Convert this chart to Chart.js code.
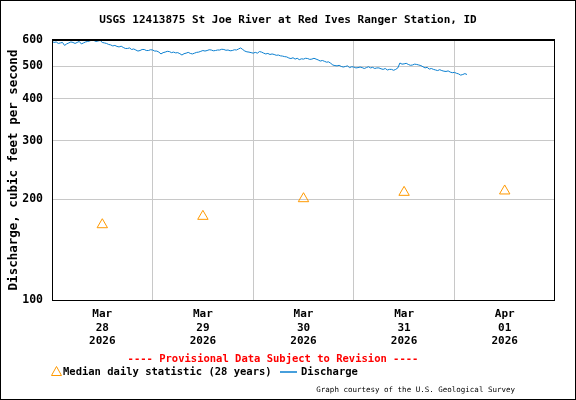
<!DOCTYPE html>
<html>
<head>
<meta charset="utf-8">
<script src="https://cdn.jsdelivr.net/npm/chart.js@4.4.1/dist/chart.umd.min.js"></script>
<style>
  html, body { margin: 0; padding: 0; background: #fff; }
</style>
</head>
<body>
<canvas id="flow" width="576" height="400"></canvas>
<script>
// hours counted from Mar 28 2026 00:00
const stationTitle = "USGS 12413875 St Joe River at Red Ives Ranger Station, ID";
const dayLabels = [["Mar", "28", "2026"], ["Mar", "29", "2026"], ["Mar", "30", "2026"], ["Mar", "31", "2026"], ["Apr", "01", "2026"]];
const dayLabelHours = [12, 36, 60, 84, 108];
const midnightHours = [24, 48, 72, 96];
const yTicks = [100, 200, 300, 400, 500, 600];

const medianHours = [12, 36, 60, 84, 108];
const medianValues = [168, 178, 201, 210, 212];

// discharge every 30 minutes, cfs
const stepHours = 0.5;
const dischargeMar28 = [594, 590, 592, 586, 588, 590, 578, 584, 588, 592, 590, 586, 590, 594, 584, 588, 592, 594, 596, 600, 598, 594, 596, 598,
  590, 588, 586, 582, 580, 576, 578, 574, 572, 575, 570, 566, 566, 568, 562, 564, 560, 556, 558, 562, 562, 558, 558, 561];
const dischargeMar29 = [560, 556, 556, 552, 545, 550, 552, 555, 554, 550, 552, 549, 550, 546, 541, 546, 548, 551, 547, 545, 548, 551, 552, 555,
  558, 556, 558, 561, 560, 557, 558, 560, 560, 563, 562, 559, 560, 557, 558, 561, 560, 564, 568, 562, 556, 553, 552, 550];
const dischargeMar30 = [548, 551, 548, 554, 552, 548, 545, 547, 543, 545, 543, 540, 541, 538, 537, 535, 534, 530, 528, 531, 526, 529, 524, 527,
  526, 529, 528, 525, 526, 529, 526, 523, 519, 521, 518, 515, 516, 511, 505, 503, 502, 504, 500, 498, 500, 502, 496, 499];
const dischargeMar31 = [498, 495, 496, 498, 496, 493, 496, 499, 495, 497, 493, 495, 495, 492, 490, 493, 488, 490, 490, 487, 490, 495, 512, 508,
  509, 511, 507, 504, 505, 508, 507, 505, 503, 499, 495, 497, 491, 493, 490, 488, 486, 489, 486, 484, 483, 485, 481, 479];
const dischargeApr01 = [480, 477, 475, 471, 473, 476, 473];

const monoFont = "'DejaVu Sans Mono', 'Liberation Mono', monospace";
const flowBlue = "#0a7fd0";
const medianOrange = "#ff9900";

const dischargeValues = [].concat(dischargeMar28, dischargeMar29, dischargeMar30, dischargeMar31, dischargeApr01);
const dischargePoints = dischargeValues.map((v, i) => ({ x: i * stepHours, y: v }));
const medianPoints = medianHours.map((h, i) => ({ x: h, y: medianValues[i] }));

const extras = {
  id: "usgsExtras",
  afterDraw(chart) {
    const ctx = chart.ctx;
    const a = chart.chartArea;
    ctx.save();

    // plot frame
    ctx.strokeStyle = "#000";
    ctx.lineWidth = 1;
    ctx.strokeRect(a.left + 0.5, a.top + 0.5, a.right - a.left - 1, a.bottom - a.top);
    ctx.beginPath();
    ctx.moveTo(a.left, a.top - 0.5);
    ctx.lineTo(a.right, a.top - 0.5);
    ctx.stroke();

    // outer frame
    ctx.strokeRect(0.5, 0.5, 575, 399);

    ctx.fillStyle = "#000";
    ctx.textBaseline = "middle";
    ctx.textAlign = "center";
    ctx.font = "bold 11px " + monoFont;
    ctx.fillText(stationTitle, 288, 20);

    ctx.fillStyle = "#ff0000";
    ctx.font = "bold 10.5px " + monoFont;
    ctx.fillText("---- Provisional Data Subject to Revision ----", 273, 359);

    // legend
    ctx.strokeStyle = medianOrange;
    ctx.beginPath();
    ctx.moveTo(56.5, 366.5);
    ctx.lineTo(61.5, 375.5);
    ctx.lineTo(51.5, 375.5);
    ctx.closePath();
    ctx.stroke();
    ctx.fillStyle = "#000";
    ctx.textAlign = "left";
    ctx.fillText("Median daily statistic (28 years)", 63, 372);
    ctx.strokeStyle = flowBlue;
    ctx.lineWidth = 1.5;
    ctx.beginPath();
    ctx.moveTo(280, 372);
    ctx.lineTo(297, 372);
    ctx.stroke();
    ctx.fillText("Discharge", 301, 372);

    ctx.textAlign = "right";
    ctx.font = "7.5px " + monoFont;
    ctx.fillText("Graph courtesy of the U.S. Geological Survey", 515, 390);
    ctx.restore();
  }
};

new Chart(document.getElementById("flow"), {
  type: "scatter",
  data: {
    datasets: [
      {
        label: "Discharge",
        data: dischargePoints,
        showLine: true,
        borderColor: flowBlue,
        borderWidth: 1,
        pointRadius: 0,
        tension: 0
      },
      {
        label: "Median daily statistic (28 years)",
        data: medianPoints,
        showLine: false,
        pointStyle: "triangle",
        pointRadius: 6,
        borderColor: medianOrange,
        backgroundColor: "rgba(0,0,0,0)",
        borderWidth: 1
      }
    ]
  },
  plugins: [extras],
  options: {
    responsive: false,
    animation: false,
    devicePixelRatio: 1,
    layout: { padding: { top: 40, right: 21, left: 0, bottom: 0 } },
    plugins: { legend: { display: false }, title: { display: false }, tooltip: { enabled: false } },
    scales: {
      x: {
        type: "linear",
        min: 0,
        max: 120,
        afterFit: (scale) => { scale.height = 100; },
        afterBuildTicks: (scale) => {
          const t = [0, 120].concat(midnightHours, dayLabelHours).sort((p, q) => p - q);
          scale.ticks = t.map((v) => ({ value: v }));
        },
        border: { display: false },
        grid: {
          drawTicks: false,
          lineWidth: 1,
          color: (c) => (c.tick && midnightHours.includes(c.tick.value) ? "#c8c8c8" : "rgba(0,0,0,0)")
        },
        ticks: {
          autoSkip: false,
          maxRotation: 0,
          padding: 8,
          color: "#000",
          font: { family: monoFont, size: 11, weight: "bold", lineHeight: 1.2 },
          callback: (v) => {
            const i = dayLabelHours.indexOf(v);
            return i >= 0 ? dayLabels[i] : "";
          }
        }
      },
      y: {
        type: "logarithmic",
        min: 100,
        max: 600,
        afterFit: (scale) => { scale.width = 52; },
        afterBuildTicks: (scale) => { scale.ticks = yTicks.map((v) => ({ value: v })); },
        border: { display: false },
        grid: { drawTicks: false, color: "#c8c8c8", lineWidth: 1 },
        ticks: {
          padding: 9,
          color: "#000",
          font: { family: monoFont, size: 11.5, weight: "bold" },
          callback: (v) => String(v)
        },
        title: {
          display: true,
          text: "Discharge, cubic feet per second",
          color: "#000",
          font: { family: monoFont, size: 12.5, weight: "bold" },
          padding: { top: 6, bottom: 0 }
        }
      }
    }
  }
});
</script>
</body>
</html>
